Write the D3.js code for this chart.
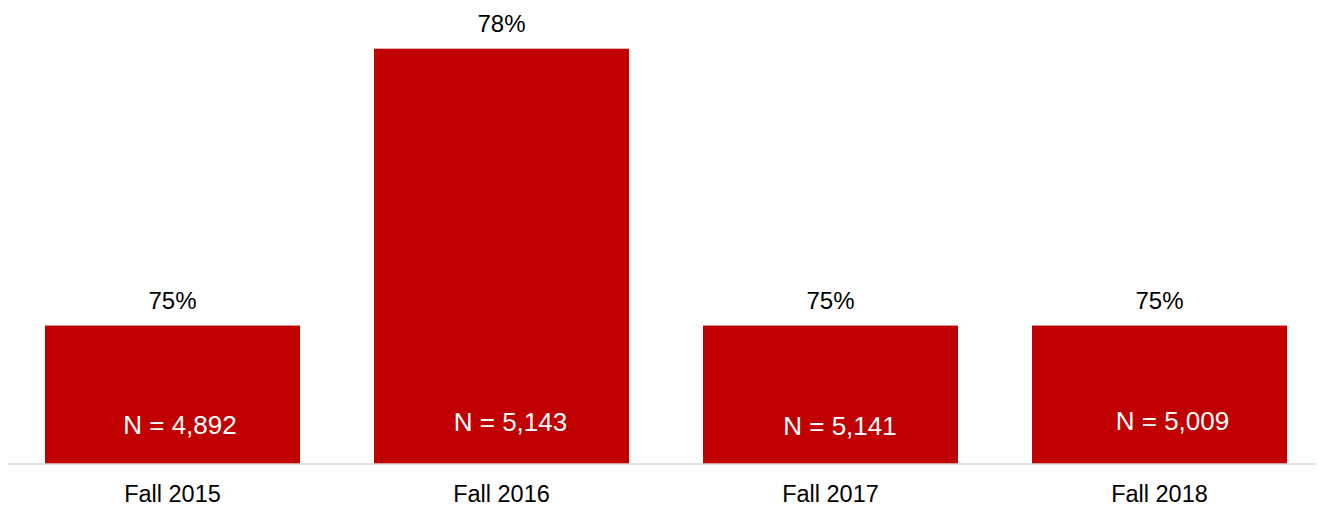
<!DOCTYPE html>
<html>
<head>
<meta charset="utf-8">
<script src="https://cdn.jsdelivr.net/npm/d3@7/dist/d3.min.js"></script>
<style>
  html, body { margin: 0; padding: 0; background: #fff; }
  svg { display: block; font-family: "Liberation Sans", Arial, sans-serif; }
</style>
</head>
<body>
<svg id="chart" width="1320" height="506"></svg>
<script>
// Retention rate by fall cohort
const terms = ["Fall 2015", "Fall 2016", "Fall 2017", "Fall 2018"];
const rates = [75, 78, 75, 75];
const cohortSizes = [4892, 5143, 5141, 5009];

// Small nudges for the cohort-size labels (px, relative to bar centre / baseline)
const nLabelDx = [7.5, 9, 9.5, 13];
const nLabelBaseline = [434, 430.5, 435, 429.5];

const W = 1320, H = 506;
const svg = d3.select("#chart");

const x = d3.scaleBand()
  .domain(terms)
  .range([8, 1324])
  .paddingInner(0.225)
  .paddingOuter(0.1125);

const y = d3.scaleLinear()
  .domain([73.5, 78])
  .range([464, 48.7]);

const data = terms.map((t, i) => ({ term: t, rate: rates[i], n: cohortSizes[i], i }));

// Bars
svg.append("g")
  .selectAll("rect")
  .data(data)
  .join("rect")
  .attr("x", d => x(d.term))
  .attr("y", d => y(d.rate))
  .attr("width", x.bandwidth())
  .attr("height", d => y.range()[0] - y(d.rate))
  .attr("fill", "#C00000");

// Baseline
svg.append("line")
  .attr("x1", 8).attr("x2", 1316)
  .attr("y1", 464).attr("y2", 464)
  .attr("stroke", "#d9d9d9")
  .attr("stroke-width", 1.5);

// Category axis (labels only)
const xAxis = d3.axisBottom(x).tickSize(0).tickPadding(0);
const gx = svg.append("g")
  .attr("transform", "translate(0,464)")
  .call(xAxis);
gx.select(".domain").remove();
gx.selectAll("text")
  .attr("y", 37.5)
  .attr("dy", null)
  .attr("fill", "#000")
  .style("font-size", "23.5px")
  .style("font-family", "'Liberation Sans', Arial, sans-serif");

// Percentage labels above bars
svg.append("g")
  .selectAll("text")
  .data(data)
  .join("text")
  .attr("x", d => x(d.term) + x.bandwidth() / 2)
  .attr("y", d => y(d.rate) - 17)
  .attr("text-anchor", "middle")
  .attr("fill", "#000")
  .style("font-size", "24px")
  .text(d => d.rate + "%");

// Cohort size labels inside bars
const fmt = d3.format(",");
svg.append("g")
  .selectAll("text")
  .data(data)
  .join("text")
  .attr("x", d => x(d.term) + x.bandwidth() / 2 + nLabelDx[d.i])
  .attr("y", d => nLabelBaseline[d.i])
  .attr("text-anchor", "middle")
  .attr("fill", "#fff")
  .style("font-size", "26px")
  .text(d => "N = " + fmt(d.n));
</script>
</body>
</html>
